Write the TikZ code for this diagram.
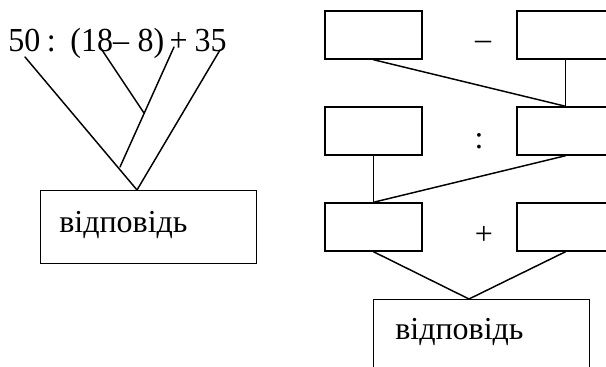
\documentclass[tikz,border=0pt]{standalone}
\usepackage{graphicx}
\usepackage{fontspec}
\setmainfont{Liberation Serif}
\begin{document}
\begin{tikzpicture}[x=0.75pt,y=-0.75pt,
  ln/.style={line width=1.1pt,line cap=round,line join=round},
  bx/.style={draw,line width=1.1pt,minimum width=97*0.75pt,minimum height=48*0.75pt,inner sep=0pt},
  big/.style={inner sep=0pt,font=\fontsize{24}{28}\selectfont},
  expr/.style={inner sep=0pt,font=\fontsize{24}{28}\selectfont},
]
\useasboundingbox (0,0) rectangle (606,367);
\clip (0,0) rectangle (606,367);
% left part
\node[expr,anchor=base west] (expr) at (8,52) {\scalebox{1}[1.05]{50\hspace{4.9pt}:\hspace{11pt}(18–\hspace{6.5pt}8)\hspace{3.9pt}+\hspace{5.2pt}35}};
\coordinate (a1) at (25,57);
\coordinate (t) at (137,190);
\coordinate (b1) at (100,47);
\coordinate (bj) at (144,113);
\coordinate (c1) at (174,47);
\coordinate (c2) at (120,167);
\coordinate (d1) at (220,50);
\draw[ln] (a1) -- (t);
\draw[ln] (b1) -- (bj);
\draw[ln] (c1) -- (c2);
\draw[ln] (d1) -- (t);
\node[draw,line width=1.1pt,minimum width=216*0.75pt,minimum height=73*0.75pt,inner sep=0pt,anchor=north west] (ans1) at (40,190) {};
\node[big,anchor=base west] (ans1t) at (59,232) {відповідь};
% right part
\node[bx] (r11) at (373.5,35) {};
\node[bx] (r12) at (565.5,35) {};
\node[bx] (r21) at (373.5,131) {};
\node[bx] (r22) at (565.5,131) {};
\node[bx] (r31) at (373.5,227) {};
\node[bx] (r32) at (565.5,227) {};
\node[big] (op1) at (483,45) {–};
\node[big] (op2) at (479,141) {:};
\node[big] (op3) at (484,235) {+};
\draw[ln] (r11.south) -- (r22.north);
\draw[ln] (r12.south) -- (r22.north);
\draw[ln] (r21.south) -- (r31.north);
\draw[ln] (r22.south) -- (r31.north);
\node[draw,line width=1.1pt,minimum width=216*0.75pt,minimum height=90*0.75pt,inner sep=0pt,anchor=north west] (ans2) at (373,299) {};
\coordinate (m) at (469,299);
\draw[ln] (r31.south) -- (m);
\draw[ln] (r32.south) -- (m);
\node[big,anchor=base west] (ans2t) at (395,339) {відповідь};
\end{tikzpicture}
\end{document}
